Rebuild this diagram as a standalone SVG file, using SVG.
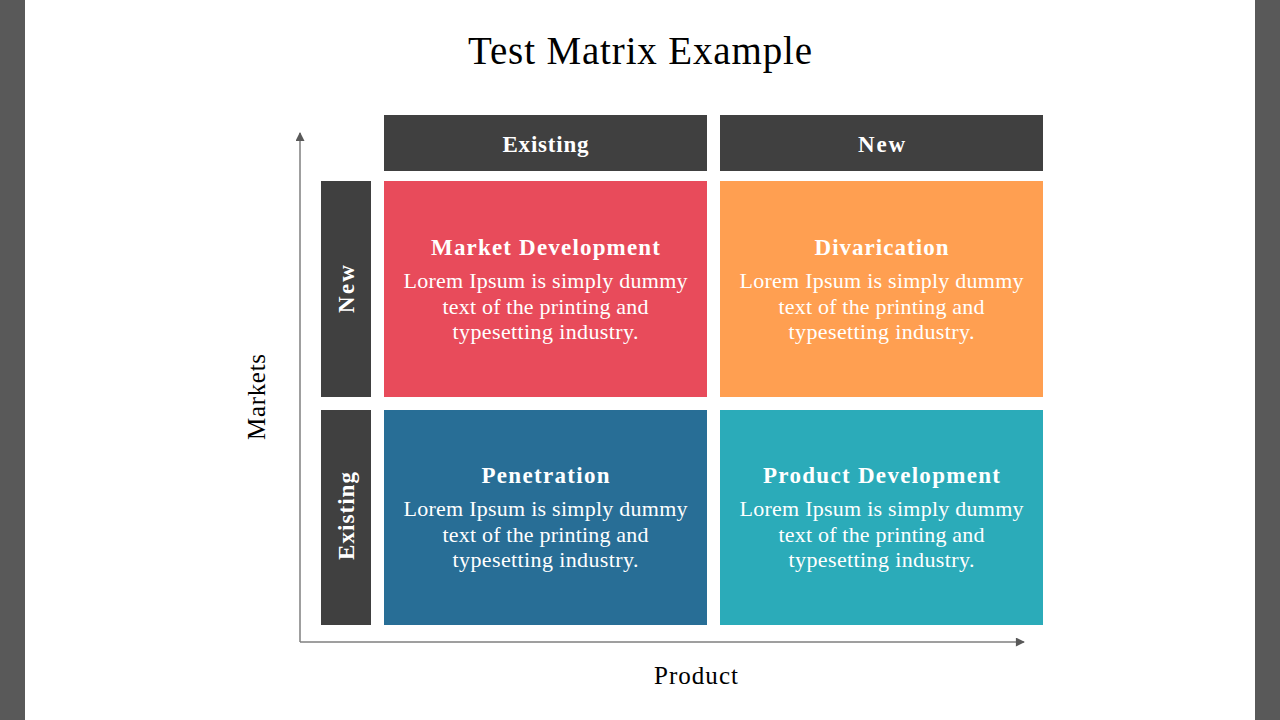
<svg xmlns="http://www.w3.org/2000/svg" width="1280" height="720" viewBox="0 0 1280 720">
<defs>
<style>
.band{fill:#595959}
.hdr{fill:#404040}
.t{font-family:"Liberation Serif","DejaVu Serif",serif;text-anchor:middle}
.w{fill:#ffffff}
.hb{font-weight:bold;font-size:23px}
.body{font-size:22px}
.ax{stroke:#7f7f7f;stroke-width:1.5;fill:none}
</style>
<marker id="ah" viewBox="0 0 10 10" refX="9" refY="5" markerWidth="10" markerHeight="9" orient="auto" markerUnits="userSpaceOnUse">
<path d="M0,0 L10,5 L0,10 z" fill="#595959"/>
</marker>
</defs>
<rect width="1280" height="720" fill="#ffffff"/>
<rect class="band" x="0" y="0" width="25" height="720"/>
<rect class="band" x="1255" y="0" width="25" height="720"/>
<text class="t" x="640" y="64" font-size="39" fill="#000" textLength="344">Test Matrix Example</text>
<g id="connectors">
<path class="ax" d="M300,642 L300,133" marker-end="url(#ah)"/>
<path class="ax" d="M300,642 L1024,642" marker-end="url(#ah)"/>
</g>
<g id="col-existing"><rect class="hdr" x="384" y="115" width="323" height="56"/><text class="t w hb" x="545.5" y="152" textLength="86">Existing</text></g>
<g id="col-new"><rect class="hdr" x="720" y="115" width="323" height="56"/><text class="t w hb" x="881.5" y="152" textLength="47">New</text></g>
<g id="row-new"><rect class="hdr" x="321" y="181" width="50" height="216"/><text class="t w hb" transform="translate(354,289) rotate(-90)" textLength="48">New</text></g>
<g id="row-existing"><rect class="hdr" x="321" y="410" width="50" height="215"/><text class="t w hb" transform="translate(354,516) rotate(-90)" textLength="88">Existing</text></g>
<g id="q-market-dev"><rect x="384" y="181" width="323" height="216" fill="#E84B5B"/>
<text class="t w hb" x="545.5" y="255" textLength="229">Market Development</text>
<text class="t w body" x="545.5" y="288" textLength="284">Lorem Ipsum is simply dummy</text>
<text class="t w body" x="545.5" y="314" textLength="206">text of the printing and</text>
<text class="t w body" x="545.5" y="339" textLength="186">typesetting industry.</text></g>
<g id="q-divarication"><rect x="720" y="181" width="323" height="216" fill="#FF9F51"/>
<text class="t w hb" x="881.5" y="255" textLength="134">Divarication</text>
<text class="t w body" x="881.5" y="288" textLength="284">Lorem Ipsum is simply dummy</text>
<text class="t w body" x="881.5" y="314" textLength="206">text of the printing and</text>
<text class="t w body" x="881.5" y="339" textLength="186">typesetting industry.</text></g>
<g id="q-penetration"><rect x="384" y="410" width="323" height="215" fill="#286E96"/>
<text class="t w hb" x="545.5" y="483" textLength="128">Penetration</text>
<text class="t w body" x="545.5" y="516" textLength="284">Lorem Ipsum is simply dummy</text>
<text class="t w body" x="545.5" y="542" textLength="206">text of the printing and</text>
<text class="t w body" x="545.5" y="567" textLength="186">typesetting industry.</text></g>
<g id="q-product-dev"><rect x="720" y="410" width="323" height="215" fill="#2BABB9"/>
<text class="t w hb" x="881.5" y="483" textLength="237">Product Development</text>
<text class="t w body" x="881.5" y="516" textLength="284">Lorem Ipsum is simply dummy</text>
<text class="t w body" x="881.5" y="542" textLength="206">text of the printing and</text>
<text class="t w body" x="881.5" y="567" textLength="186">typesetting industry.</text></g>
<g id="label-markets"><text class="t" font-size="25" fill="#000" transform="translate(265,397) rotate(-90)" textLength="86">Markets</text></g>
<g id="label-product"><text class="t" font-size="25" fill="#000" x="696" y="684" textLength="84">Product</text></g>
</svg>
